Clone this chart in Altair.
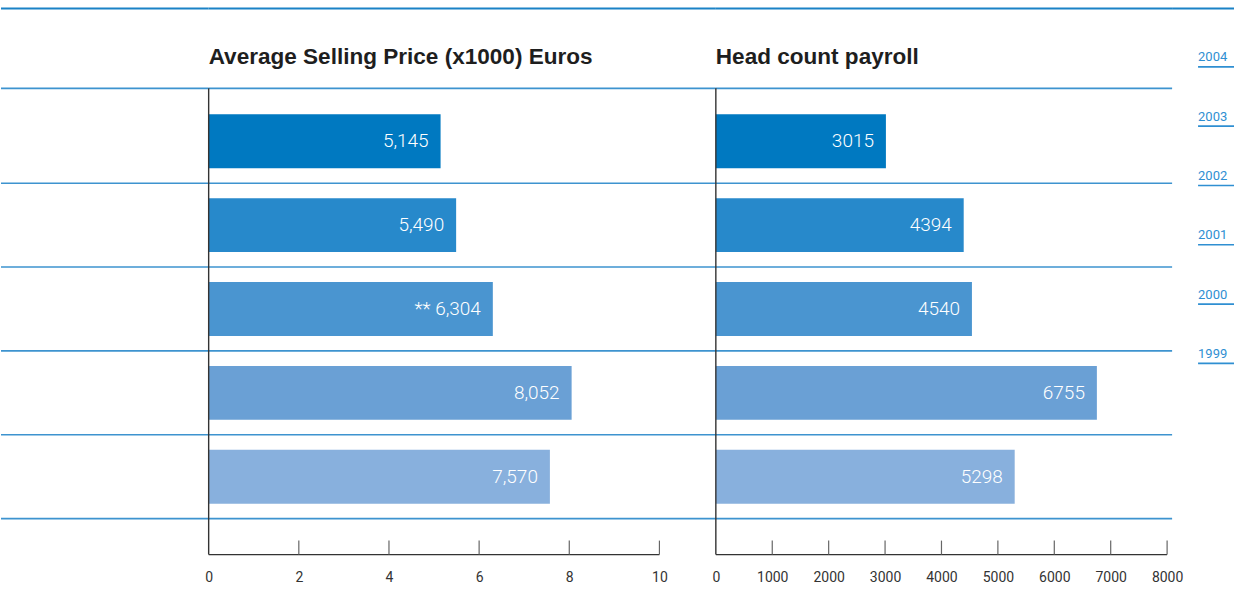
import altair as alt
import pandas as pd

# ---- data ----
rows = [0, 1, 2, 3, 4]
asp_values = [5.145, 5.490, 6.304, 8.052, 7.570]          # x1000 euros
asp_prefix = ["", "", "** ", "", ""]
headcount_values = [3015, 4394, 4540, 6755, 5298]
year_labels = ["2004", "2003", "2002", "2001", "2000", "1999"]
asp_ticks = [0, 2, 4, 6, 8, 10]
hc_ticks = [0, 1000, 2000, 3000, 4000, 5000, 6000, 7000, 8000]
asp_title = "Average Selling Price (x1000) Euros"
hc_title = "Head count payroll"

# ---- styles / layout ----
bar_colors = ["#0079c1", "#2789cb", "#4a95d0", "#6aa0d5", "#88b0dd"]
LINE = "#3d93cf"
TOPLINE = "#1a82c6"
AXIS = "#333333"
YEAR_BLUE = "#2f8fd2"
ROW_PX = 84.0
ROW0_PX = 141.0
H = 555


def px(p):
    return (p - ROW0_PX) / ROW_PX


Y_MIN, Y_MAX = px(0), px(H)
Y_TOP_LINE = px(8)
Y_HEAD_LINE = px(88)
Y_TITLE = px(57)
Y_TICK_TOP = px(541)
HALF_BAR = 27 / ROW_PX

YS = alt.Scale(domain=[Y_MIN, Y_MAX], reverse=True, nice=False, zero=False)

W0, W1, W2, W3 = 208, 508, 457, 62
ASP_MAX = W1 / 45.15
HC_MAX = W2 / (452 / 8000)

divider_df = pd.DataFrame({"y": [Y_HEAD_LINE] + [r + 0.5 for r in rows]})
top_df = pd.DataFrame({"y": [Y_TOP_LINE]})


def yenc(field="y"):
    return alt.Y(f"{field}:Q", scale=YS, axis=None)


def rules(width):
    top = alt.Chart(top_df).mark_rule(color=TOPLINE, strokeWidth=2).encode(
        x=alt.value(0), x2=alt.value(width), y=yenc())
    div = alt.Chart(divider_df).mark_rule(color=LINE, strokeWidth=1.6).encode(
        x=alt.value(0), x2=alt.value(width), y=yenc())
    return [top, div]


def bar_panel(values, labels, ticks, xmax, width, title):
    xs = alt.Scale(domain=[0, xmax], nice=False, zero=True)
    xaxis = alt.Axis(values=ticks, domain=False, ticks=False, grid=False,
                     labelPadding=16, labelFontSize=14, labelColor=AXIS,
                     labelFont="Roboto", labelFlush=False, title=None,
                     labelOverlap=False, format="d")

    def xenc(field):
        return alt.X(f"{field}:Q", scale=xs, axis=xaxis)

    df = pd.DataFrame({
        "row": rows,
        "v": values,
        "label": labels,
        "y0": [r - HALF_BAR for r in rows],
        "y1": [r + HALF_BAR for r in rows],
        "zero": [0] * len(rows),
    })
    bars = alt.Chart(df).mark_rect().encode(
        x=xenc("v"), x2="zero:Q",
        y=yenc("y0"), y2="y1:Q",
        color=alt.Color("row:N", scale=alt.Scale(domain=rows, range=bar_colors), legend=None),
    )
    text = alt.Chart(df).mark_text(
        align="right", baseline="middle", dx=-12, color="white",
        font="Roboto", fontSize=19, fontWeight=300,
    ).encode(x=xenc("v"), y=yenc("row"), text="label:N")

    vaxis = alt.Chart(pd.DataFrame({"x": [0], "ya": [Y_HEAD_LINE], "yb": [Y_MAX]})).mark_rule(
        color=AXIS, strokeWidth=1.4).encode(x=xenc("x"), y=yenc("ya"), y2="yb:Q")
    haxis = alt.Chart(pd.DataFrame({"xa": [ticks[0]], "xb": [ticks[-1]], "y": [Y_MAX]})).mark_rule(
        color=AXIS, strokeWidth=1.4).encode(x=xenc("xa"), x2="xb:Q", y=yenc())
    tick_df = pd.DataFrame({"x": ticks[1:], "ya": [Y_TICK_TOP] * (len(ticks) - 1),
                            "yb": [Y_MAX] * (len(ticks) - 1)})
    tks = alt.Chart(tick_df).mark_rule(color="#666666", strokeWidth=1.2).encode(
        x=xenc("x"), y=yenc("ya"), y2="yb:Q")
    ttl = alt.Chart(pd.DataFrame({"x": [0], "y": [Y_TITLE], "t": [title]})).mark_text(
        align="left", baseline="middle", font="Liberation Sans, Arial, sans-serif",
        fontSize=22.6, fontWeight="bold", color="#1e1e1e",
    ).encode(x=xenc("x"), y=yenc(), text="t:N")

    return alt.layer(bars, text, *rules(width), vaxis, haxis, tks, ttl).properties(
        width=width, height=H)


asp_labels = [p + f"{v * 1000:,.0f}" for p, v in zip(asp_prefix, asp_values)]
hc_labels = [str(v) for v in headcount_values]

left_blank = alt.layer(*rules(W0)).properties(width=W0, height=H)
asp_panel = bar_panel(asp_values, asp_labels, asp_ticks, ASP_MAX, W1, asp_title)
hc_panel = bar_panel(headcount_values, hc_labels, hc_ticks, HC_MAX, W2, hc_title)

# year markers on the right
YEAR_STEP = 59.4 / ROW_PX
ydf = pd.DataFrame({
    "year": year_labels,
    "y": [Y_TITLE + i * YEAR_STEP for i in range(len(year_labels))],
})
ydf["yu"] = ydf["y"] + 9.5 / ROW_PX
ydf["xa"] = 26 / W3
ydf["xb"] = 1.0
xs3 = alt.Scale(domain=[0, 1], nice=False)
ytext = alt.Chart(ydf).mark_text(
    align="left", baseline="middle", font="Roboto", fontSize=13, color=YEAR_BLUE,
).encode(x=alt.X("xa:Q", scale=xs3, axis=None), y=yenc(), text="year:N")
yline = alt.Chart(ydf).mark_rule(color=YEAR_BLUE, strokeWidth=1.6).encode(
    x=alt.X("xa:Q", scale=xs3, axis=None), x2="xb:Q", y=yenc("yu"))
ytop = alt.Chart(top_df).mark_rule(color=TOPLINE, strokeWidth=2).encode(
    x=alt.value(0), x2=alt.value(W3), y=yenc())
year_panel = alt.layer(ytext, yline, ytop).properties(width=W3, height=H)

chart = alt.hconcat(
    left_blank, asp_panel, hc_panel, year_panel, spacing=0, bounds="flush"
).properties(
    padding={"left": 0, "top": 0, "right": 0, "bottom": 0},
    background="white",
).configure_view(stroke=None)

chart.save("out.html", embed_options={"renderer": "svg", "actions": False})
